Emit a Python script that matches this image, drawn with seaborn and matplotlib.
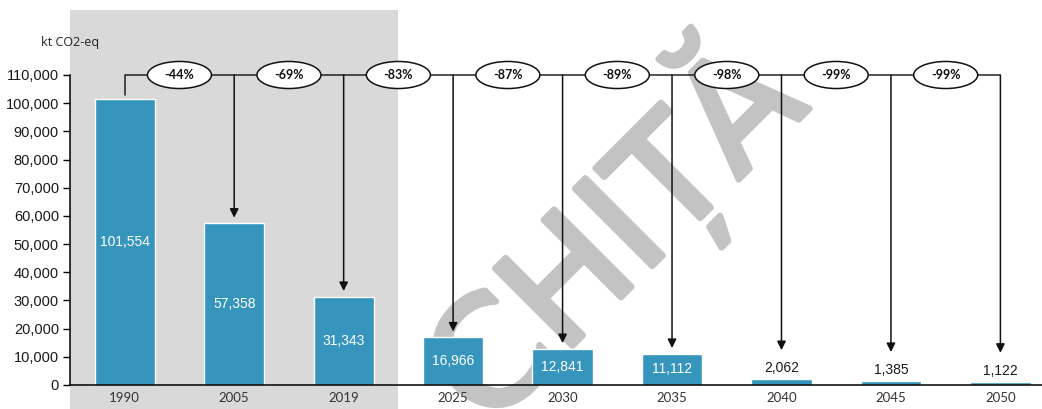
import matplotlib
matplotlib.use("Agg")
import matplotlib.pyplot as plt
import matplotlib.transforms as mtransforms
import matplotlib.patheffects as pe
from matplotlib.patches import Ellipse, Rectangle
import seaborn as sns
import pandas as pd

# Emissions, kt CO2-eq
years = ["1990", "2005", "2019", "2025", "2030", "2035", "2040", "2045", "2050"]
emissions = [101554, 57358, 31343, 16966, 12841, 11112, 2062, 1385, 1122]
reductions = ["-44%", "-69%", "-83%", "-87%", "-89%", "-98%", "-99%", "-99%"]
y_ticks = list(range(0, 110001, 10000))
unit_label = "kt CO2-eq"
watermark = "CHIȚĂ"
historic_count = 3  # shaded historic years

BAR = "#3595bd"
SHADE = "#d9d9d9"
MARK = "#c3c3c3"

df = pd.DataFrame({"year": years, "emissions": emissions})

sns.set_style("ticks")
plt.rcParams["font.family"] = ["Liberation Sans", "DejaVu Sans"]

fig = plt.figure(figsize=(10.42, 4.09), dpi=100)
ax = fig.add_axes([70 / 1042, 1 - 385 / 409, (1042 - 70) / 1042, 310 / 409])

sns.barplot(data=df, x="year", y="emissions", color=BAR, saturation=1,
            width=0.55, ax=ax, zorder=2)

ax.set_xlim(-0.5, 8.38)
ax.set_ylim(0, 110000)
ax.set_yticks(y_ticks)
ax.set_yticklabels([f"{v:,}" for v in y_ticks], fontsize=10.5, color="#1a1a1a")
ax.set_xlabel("")
ax.set_ylabel("")
ax.tick_params(axis="x", length=0, pad=5)
ax.tick_params(axis="y", length=5, width=1, color="black", pad=3, direction="out")
for lab in ax.get_xticklabels():
    lab.set_fontfamily(["Lato", "DejaVu Sans"])
    lab.set_fontsize(9.5)
    lab.set_color("#333333")
for side in ("top", "right"):
    ax.spines[side].set_visible(False)
for side in ("left", "bottom"):
    ax.spines[side].set_color("black")
    ax.spines[side].set_linewidth(1.1)
    ax.spines[side].set_zorder(3)

# shaded background behind the historic years
blend = mtransforms.blended_transform_factory(ax.transData, ax.transAxes)
ax.add_patch(Rectangle((-0.5, -0.1), historic_count, 1.31, transform=blend,
                       facecolor=SHADE, edgecolor="none", zorder=0.2,
                       clip_on=False))

# watermark lettering, thickened with a rounded stroke
ax.text(4.45, 54500, watermark, rotation=45, rotation_mode="anchor",
        ha="center", va="center", fontsize=108, color=MARK,
        family=["DejaVu Sans"], zorder=0.5, clip_on=False,
        path_effects=[pe.withStroke(linewidth=4.5, foreground=MARK,
                                    capstyle="round", joinstyle="round")])

# value labels
for i, v in enumerate(emissions):
    if v > 5000:
        ax.text(i, v / 2, f"{v:,}", ha="center", va="center", color="white",
                fontsize=10, zorder=5)
    else:
        ax.text(i, v + 1500, f"{v:,}", ha="center", va="bottom",
                color="#1a1a1a", fontsize=10, zorder=5)

# connector line with arrows and percentage ellipses
top = 110000
n = len(years)
ax.plot([0, n - 1], [top, top], color="#222222", lw=1.1, zorder=3,
        clip_on=False, solid_capstyle="butt")
ax.plot([0, 0], [top, emissions[0] + 1500], color="#222222", lw=1.1,
        zorder=3, clip_on=False)
for i in range(1, n):
    v = emissions[i]
    end = v + 2000 if v > 5000 else v + 10300
    ax.annotate("", xy=(i, end), xytext=(i, top),
                arrowprops=dict(arrowstyle="-|>", color="#111111", lw=1.1,
                                mutation_scale=13, shrinkA=0, shrinkB=0),
                zorder=3, annotation_clip=False)

for i, r in enumerate(reductions):
    xc = i + 0.5
    ax.add_patch(Ellipse((xc, top), 0.585, 9600, facecolor="white",
                         edgecolor="#111111", lw=1.1, zorder=4, clip_on=False))
    ax.text(xc, top, r, ha="center", va="center", fontsize=9,
            fontweight="bold", family=["Lato", "DejaVu Sans"],
            color="#111111", zorder=5, clip_on=False)

ax.text(-0.5, 1.105, unit_label, transform=blend, ha="center", va="center",
        fontsize=9, family=["Open Sans", "DejaVu Sans"], color="#222222")

fig.savefig("out.png", dpi=100)
